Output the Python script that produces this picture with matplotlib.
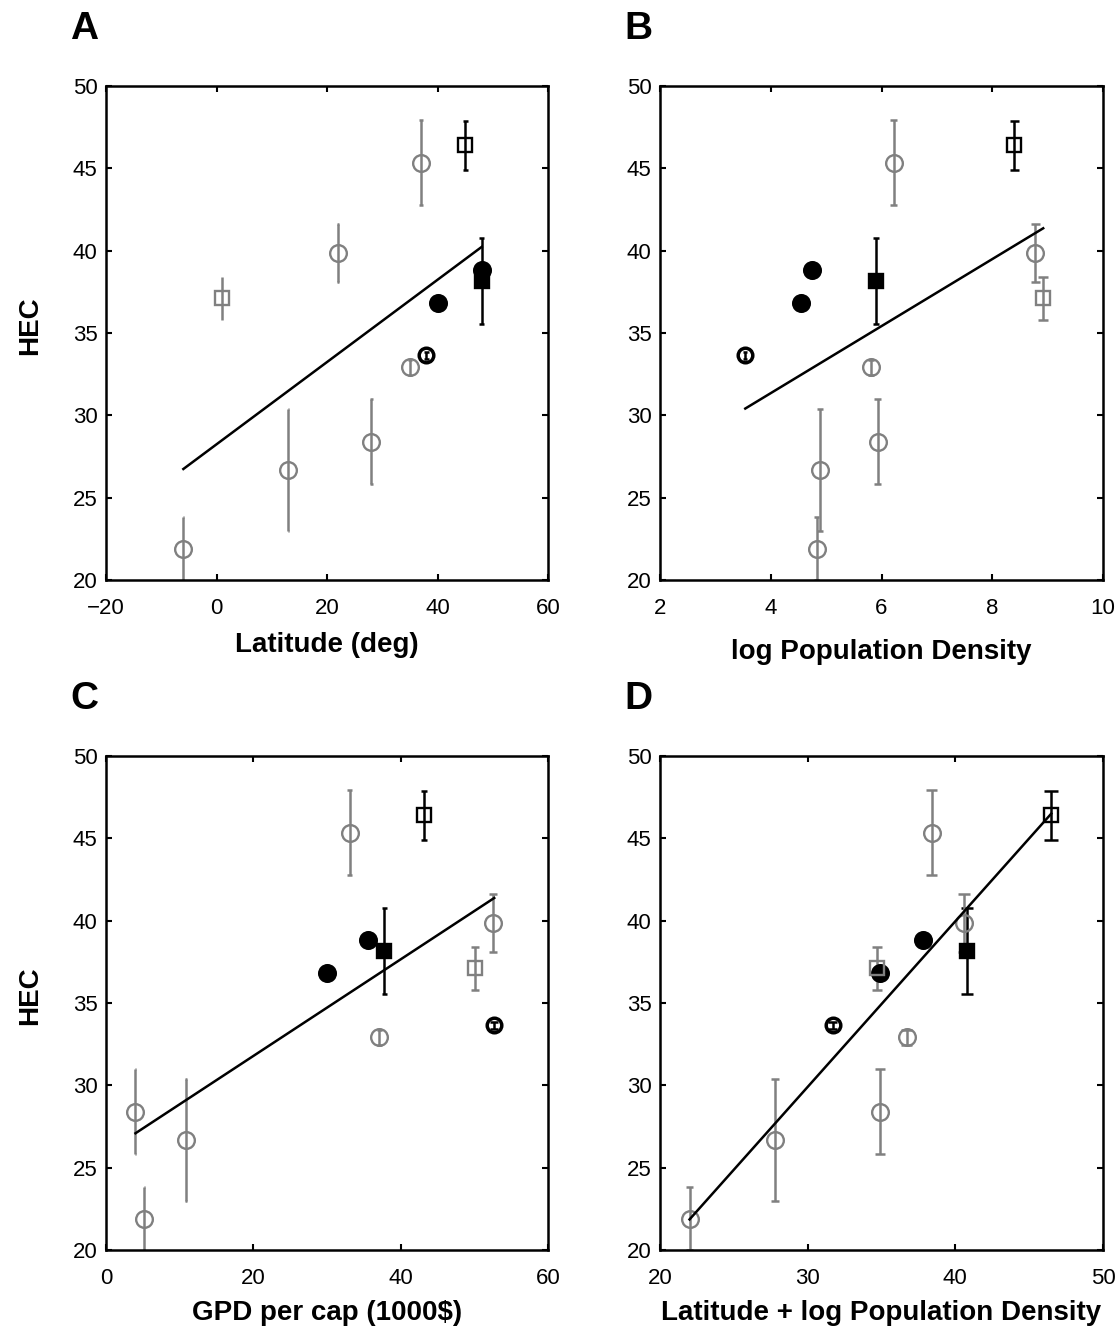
import numpy as np
import matplotlib
matplotlib.use("Agg")
import matplotlib.pyplot as plt

plt.rcParams['font.family'] = ['Liberation Sans', 'DejaVu Sans']

# ---- data: one entry per population ----
hec = [21.9, 26.66, 28.4, 32.91, 33.65, 36.85, 38.8, 38.15, 45.35, 46.4, 39.88, 37.1]
hec_err = [1.9, 3.7, 2.6, 0.45, 0.2, 0.0, 0.0, 2.63, 2.6, 1.5, 1.76, 1.31]

latitude = [-6, 13, 28, 35, 38, 40, 48, 48, 37, 45, 22, 1]
log_pop_density = [4.83, 4.89, 5.93, 5.81, 3.54, 4.54, 4.75, 5.90, 6.22, 8.40, 8.78, 8.92]
gdp_per_cap = [5.2, 10.9, 4.0, 37.1, 52.7, 30.0, 35.6, 37.8, 33.1, 43.2, 52.5, 50.1]
lat_logpop = [22.0, 27.8, 34.9, 36.7, 31.7, 34.9, 37.8, 40.8, 38.4, 46.5, 40.6, 34.7]

panel_letters = ['A', 'B', 'C', 'D']
x_labels = ['Latitude (deg)', 'log Population Density',
            'GPD per cap (1000$)', 'Latitude + log Population Density']
x_limits = [(-20, 60), (2, 10), (0, 60), (20, 50)]
x_ticks = [[-20, 0, 20, 40, 60], [2, 4, 6, 8, 10], [0, 20, 40, 60], [20, 30, 40, 50]]
y_ticks = [20, 25, 30, 35, 40, 45, 50]

# ---- marker styles per population ----
GRAY = '#808080'
BLACK = '#000000'
markers = ['o', 'o', 'o', 'o', 'o', 'o', 'o', 's', 'o', 's', 'o', 's']
colors = [GRAY, GRAY, GRAY, GRAY, BLACK, BLACK, BLACK, BLACK, GRAY, BLACK, GRAY, GRAY]
filled = [False, False, False, False, False, True, True, True, False, False, False, False]
draw_order = [5, 6, 7, 0, 1, 2, 3, 4, 8, 9, 10, 11]

fig = plt.figure(figsize=(11.18, 13.29), dpi=100)
W, H = 1118.0, 1329.0

def axes_px(left, right, top, bottom):
    return fig.add_axes([left / W, 1 - bottom / H, (right - left) / W, (bottom - top) / H])

axes = [
    axes_px(106, 548, 86, 580),
    axes_px(660, 1103, 86, 580),
    axes_px(106, 548, 756, 1250),
    axes_px(660, 1103, 756, 1250),
]
xdata = [latitude, log_pop_density, gdp_per_cap, lat_logpop]
letter_pos = [(84, 29), (638, 29), (84, 699), (638, 699)]
xlabel_y = [-0.132, -0.146, -0.128, -0.128]

for k, ax in enumerate(axes):
    x = np.asarray(xdata[k], dtype=float)
    y = np.asarray(hec, dtype=float)
    e = np.asarray(hec_err, dtype=float)

    for i in draw_order:
        c = colors[i]
        if e[i] > 0:
            ax.errorbar(x[i], y[i], yerr=e[i], fmt='none', ecolor=c,
                        elinewidth=1.8, capsize=0, zorder=2)
            tee = abs(x[i]) / 100.0
            if tee > 0:
                ax.hlines([y[i] - e[i], y[i] + e[i]], x[i] - tee, x[i] + tee,
                          colors=c, linewidth=1.8, zorder=2)
        if markers[i] == 'o':
            if filled[i]:
                ms = 12
            elif c == BLACK:
                ms = 10.5
            else:
                ms = 12
        else:
            ms = 10
        mew = 2.5 if (c == BLACK and not filled[i] and markers[i] == 'o') else 1.7
        ax.plot(x[i], y[i], marker=markers[i], linestyle='none',
                markersize=ms, markeredgewidth=mew, markeredgecolor=c,
                markerfacecolor=c if filled[i] else 'none', zorder=3)

    # least-squares fit over the data range
    coef = np.polyfit(x, y, 1)
    xs = np.array([x.min(), x.max()])
    ax.plot(xs, np.polyval(coef, xs), color='black', linewidth=1.8, zorder=4)

    ax.set_xlim(*x_limits[k])
    ax.set_ylim(20, 50)
    ax.set_xticks(x_ticks[k])
    ax.set_yticks(y_ticks)
    ax.tick_params(direction='in', length=4, width=1.5, top=True, right=True,
                   labelsize=16, pad=6)
    ax.tick_params(axis='x', pad=13)
    for sp in ax.spines.values():
        sp.set_linewidth(1.8)

    ax.set_xlabel(x_labels[k], fontsize=20, fontweight='bold')
    ax.xaxis.label.set_va('center')
    ax.xaxis.set_label_coords(0.5, xlabel_y[k])
    if k in (0, 2):
        ax.set_ylabel('HEC', fontsize=20, fontweight='bold')
        ax.yaxis.label.set_va('center')
        ax.yaxis.set_label_coords(-0.172, 0.514)

    lx, ly = letter_pos[k]
    fig.text(lx / W, 1 - ly / H, panel_letters[k], fontsize=28, fontweight='bold',
             ha='center', va='center')

fig.savefig('out.png', dpi=100)
